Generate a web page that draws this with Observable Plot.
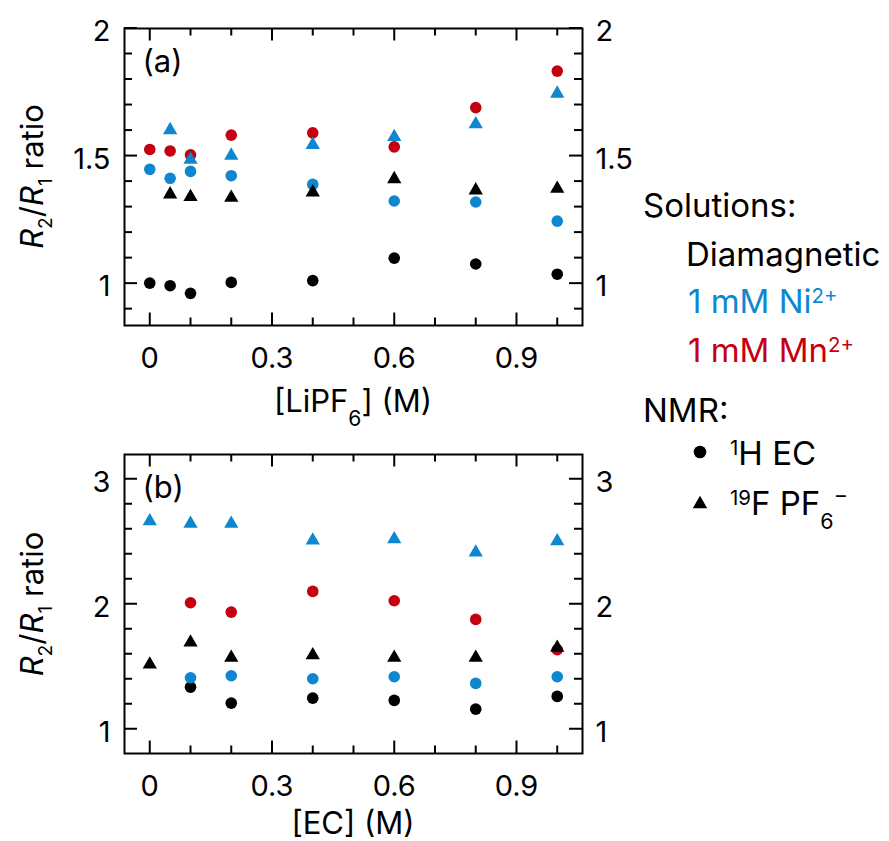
<!DOCTYPE html>
<html><head><meta charset="utf-8">
<script src="https://cdn.jsdelivr.net/npm/d3@7"></script>
<script src="https://cdn.jsdelivr.net/npm/@observablehq/plot@0.6"></script>
<style>
body{margin:0;background:#fff;}
#fig{position:relative;width:889px;height:841px;overflow:hidden;background:#fff;}
#fig svg{position:absolute;left:0;}
</style></head><body><div id="fig"></div>
<script>
// ---------- data ----------
const solutions = ["Diamagnetic", "1 mM Ni2+", "1 mM Mn2+"];
const solutionColors = ["#000000", "#0f87cf", "#c50010"];

// panel (a): [LiPF6] series
const lipf6 = [0, 0.05, 0.1, 0.2, 0.4, 0.6, 0.8, 1.0];
const aDiaH = [1.00, 0.99, 0.96, 1.003, 1.01, 1.098, 1.075, 1.035];
const aDiaF = [null, 1.348, 1.338, 1.335, 1.356, 1.408, 1.364, 1.37];
const aNiH  = [1.446, 1.411, 1.438, 1.421, 1.387, 1.322, 1.318, 1.243];
const aNiF  = [null, 1.60, 1.484, 1.50, 1.542, 1.573, 1.623, 1.743];
const aMnH  = [1.524, 1.518, 1.503, 1.58, 1.589, 1.534, 1.688, 1.831];

// panel (b): [EC] series
const ec = [0, 0.1, 0.2, 0.4, 0.6, 0.8, 1.0];
const bDiaH = [null, 1.333, 1.205, 1.245, 1.227, 1.157, 1.259];
const bDiaF = [1.515, 1.69, 1.568, 1.589, 1.568, 1.568, 1.648];
const bNiH  = [null, 1.408, 1.424, 1.40, 1.416, 1.363, 1.416];
const bNiF  = [2.661, 2.64, 2.64, 2.507, 2.517, 2.41, 2.501];
const bMnH  = [null, 2.008, 1.933, 2.099, 2.024, 1.875, 1.632];

// ticks / tick labels
const xMinor = [0.1, 0.2, 0.4, 0.5, 0.7, 0.8, 1.0];
const xMajor = [0, 0.3, 0.6, 0.9];
const xLabels = [0, 0.3, 0.6, 0.9];
const yMinorA = [0.9, 1.1, 1.2, 1.3, 1.4, 1.6, 1.7, 1.8, 1.9];
const yMajorA = [1, 1.5, 2];
const yLabelsA = [1, 1.5, 2];
const yMinorB = [1.2, 1.4, 1.6, 1.8, 2.2, 2.4, 2.6, 2.8];
const yMajorB = [1, 2, 3];
const yLabelsB = [1, 2, 3];

// ---------- helpers ----------
const W = 889, ML = 124, MR = 307;
const FONT = "Inter, 'Liberation Sans', sans-serif";
function rows(xs, ys, sol, nuc) {
  return xs.map((x, i) => ({x, y: ys[i], sol, nuc})).filter(d => d.y != null);
}

function panel({height, mTop, mBottom, yDomain, yMinor, yMajor, yLabels, tag, circles, triangles}) {
  const FH = height - mTop - mBottom, FW = W - ML - MR;
  const minL = 7.5, majL = 12.5, yMinL = 8, yMajL = 13;
  const marks = [];
  for (const g of circles) marks.push(Plot.dot(g, {x: "x", y: "y", fill: "sol", r: 5.8, symbol: "circle"}));
  for (const g of triangles) marks.push(Plot.dot(g, {x: "x", y: "y", fill: "sol", r: 5.3, symbol: "triangle"}));
  marks.push(
    Plot.frame({stroke: "#000", strokeWidth: 2}),
    Plot.tickX(xMinor, {x: d => d, insetTop: FH - minL, strokeWidth: 2}),
    Plot.tickX(xMinor, {x: d => d, insetBottom: FH - minL, strokeWidth: 2}),
    Plot.tickX(xMajor, {x: d => d, insetTop: FH - majL, strokeWidth: 2}),
    Plot.tickX(xMajor, {x: d => d, insetBottom: FH - majL, strokeWidth: 2}),
    Plot.tickY(yMinor, {y: d => d, insetRight: FW - yMinL, strokeWidth: 2}),
    Plot.tickY(yMinor, {y: d => d, insetLeft: FW - yMinL, strokeWidth: 2}),
    Plot.tickY(yMajor, {y: d => d, insetRight: FW - yMajL, strokeWidth: 2}),
    Plot.tickY(yMajor, {y: d => d, insetLeft: FW - yMajL, strokeWidth: 2}),
    Plot.text(xLabels, {x: d => d, text: d => String(d), frameAnchor: "bottom", lineAnchor: "top", dy: 22, fontSize: 29}),
    Plot.text(yLabels, {y: d => d, text: d => String(d), frameAnchor: "left", textAnchor: "end", dx: -14, dy: 4, fontSize: 29}),
    Plot.text(yLabels, {y: d => d, text: d => String(d), frameAnchor: "right", textAnchor: "start", dx: 13, dy: 4, fontSize: 29}),
    Plot.text([tag], {text: d => d, frameAnchor: "top-left", textAnchor: "start", lineAnchor: "top", dx: 18, dy: 21, fontSize: 31})
  );
  return Plot.plot({
    width: W, height, marginTop: mTop, marginBottom: mBottom, marginLeft: ML, marginRight: MR,
    x: {domain: [-0.062, 1.062], axis: null},
    y: {domain: yDomain, axis: null},
    color: {domain: solutions, range: solutionColors},
    style: {fontFamily: FONT, background: "transparent", overflow: "visible", color: "#000"},
    marks
  });
}

const fig = document.getElementById("fig");

const plotA = panel({
  height: 428, mTop: 28, mBottom: 103, yDomain: [0.834, 1.998],
  yMinor: yMinorA, yMajor: yMajorA, yLabels: yLabelsA, tag: "(a)",
  circles: [rows(lipf6, aDiaH, solutions[0]), rows(lipf6, aMnH, solutions[2]), rows(lipf6, aNiH, solutions[1])],
  triangles: [rows(lipf6, aNiF, solutions[1]), rows(lipf6, aDiaF, solutions[0])]
});
plotA.style.top = "0px";
fig.appendChild(plotA);

const plotB = panel({
  height: 413, mTop: 26, mBottom: 88, yDomain: [0.802, 3.194],
  yMinor: yMinorB, yMajor: yMajorB, yLabels: yLabelsB, tag: "(b)",
  circles: [rows(ec, bDiaH, solutions[0]), rows(ec, bMnH, solutions[2]), rows(ec, bNiH, solutions[1])],
  triangles: [rows(ec, bNiF, solutions[1]), rows(ec, bDiaF, solutions[0])]
});
plotB.style.top = "428px";
fig.appendChild(plotB);

// ---------- overlay text: axis titles and legend ----------
const ov = d3.create("svg").attr("width", W).attr("height", 841)
  .style("top", "0px").style("pointer-events", "none")
  .attr("font-family", FONT);

function rich(x, y, parts, {size = 31, fill = "#000", anchor = "start", rotate = 0} = {}) {
  const t = ov.append("text").attr("font-size", size).attr("fill", fill).attr("text-anchor", anchor)
    .attr("transform", `translate(${x},${y}) rotate(${rotate})`);
  let shift = 0;
  for (const p of parts) {
    const s = t.append("tspan").text(p.t);
    let target = 0, fs = size;
    if (p.sub) { target = p.sub * size; fs = (p.fs || 0.65) * size; }
    if (p.sup) { target = -p.sup * size; fs = (p.fs || 0.62) * size; }
    s.attr("font-size", fs).attr("dy", target - shift);
    if (p.i) s.attr("font-style", "italic");
    if (p.dx) s.attr("dx", p.dx);
    shift = target;
  }
  return t;
}

const yTitle = [{t: "R", i: true}, {t: "2", sub: 0.3, fs: 0.62}, {t: "/"}, {t: "R", i: true}, {t: "1", sub: 0.3, fs: 0.62}, {t: " ratio"}];
rich(43, 176.5, yTitle, {anchor: "middle", rotate: -90});
rich(43, 604, yTitle, {anchor: "middle", rotate: -90});
rich(353, 412, [{t: "[LiPF"}, {t: "6", sub: 0.45, fs: 0.68}, {t: "] (M)"}], {anchor: "middle"});
rich(353, 834, [{t: "[EC] (M)"}], {anchor: "middle"});

// legend
const LS = 33;
rich(643, 217, [{t: "Solutions:"}], {size: LS});
rich(686, 266, [{t: "Diamagnetic"}], {size: LS, fill: solutionColors[0]});
rich(688, 313, [{t: "1 mM Ni"}, {t: "2+", sup: 0.3}], {size: LS, fill: solutionColors[1]});
rich(688, 362, [{t: "1 mM Mn"}, {t: "2+", sup: 0.3}], {size: LS, fill: solutionColors[2]});
rich(643, 422, [{t: "NMR:"}], {size: LS});
ov.append("path").attr("transform", "translate(700,452)").attr("d", d3.symbol(d3.symbolCircle, Math.PI * 6.3 * 6.3)()).attr("fill", "#000");
rich(730, 465, [{t: "1", sup: 0.3}, {t: "H EC"}], {size: LS});
ov.append("path").attr("transform", "translate(700,504)").attr("d", d3.symbol(d3.symbolTriangle, 90)()).attr("fill", "#000");
rich(730, 515, [{t: "19", sup: 0.3}, {t: "F PF"}, {t: "6", sub: 0.42, fs: 0.65}, {t: "\u2212", sup: 0.32, fs: 0.65}], {size: LS});

fig.appendChild(ov.node());
</script>
</body></html>
